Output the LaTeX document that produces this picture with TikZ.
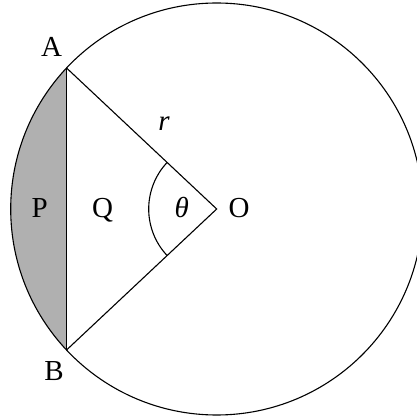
\documentclass[tikz,border=0pt]{standalone}
\usepackage{fontspec}
\setmainfont{Liberation Serif}
\usetikzlibrary{calc}
\begin{document}
\begin{tikzpicture}[x=1pt,y=1pt,
  lbl/.style={inner sep=0pt,anchor=base,font=\fontsize{29}{34}\selectfont},
  ln/.style={line width=1.1pt}]
\useasboundingbox (0,0) rectangle (417,418);
\coordinate (O) at (216.7,209);
\coordinate (A) at ($(O)+(136.8:206)$);
\coordinate (B) at ($(O)+(223.2:206)$);
\fill[fill={rgb,255:red,176;green,176;blue,176}] (A) arc[start angle=136.8,end angle=223.2,radius=206] -- cycle;
\draw[ln] (O) circle[radius=206];
\draw[ln] (A) -- (B);
\draw[ln] (A) -- (O) -- (B);
\draw[ln] ($(O)+(136.8:68)$) arc[start angle=136.8,end angle=223.2,radius=68];
\node[lbl] (lA) at (51.5,361) {A};
\node[lbl] (lB) at (54,37) {B};
\node[lbl] (lr) at (164,287.3) {\textit{r}};
\node[lbl] (lP) at (39.7,200.5) {P};
\node[lbl] (lQ) at (102.5,200.5) {Q};
\node[lbl] (lt) at (181.7,200.5) {\textit{θ}};
\node[lbl] (lO) at (239,200.5) {O};
\end{tikzpicture}
\end{document}
